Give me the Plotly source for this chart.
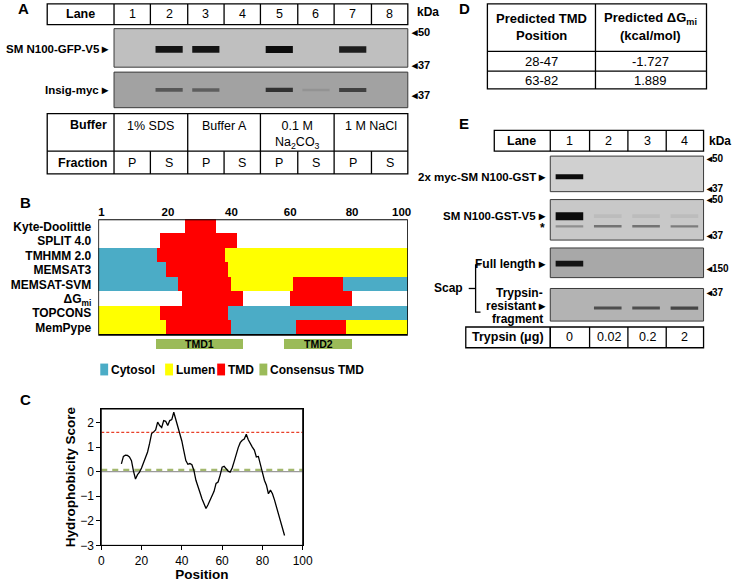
import plotly.graph_objects as go

W, H = 745, 582
FONT = "Liberation Sans, Arial, Helvetica, sans-serif"

# ------------------------------------------------------------------ data
# Panel A
lanes_a = ["1", "2", "3", "4", "5", "6", "7", "8"]
buffers_a = ["1% SDS", "Buffer A", "0.1 M<br>Na<sub>2</sub>CO<sub>3</sub>", "1 M NaCl"]
fractions_a = ["P", "S", "P", "S", "P", "S", "P", "S"]
sm_gfp_band = [0, 0.95, 0.95, 0, 1.0, 0, 0.9, 0]
insig_band = [0, 0.5, 0.45, 0, 0.75, 0.1, 0.65, 0]
kda_a = ["50", "37", "37"]

# Panel B
methods_b = ["Kyte-Doolittle", "SPLIT 4.0", "TMHMM 2.0", "MEMSAT3", "MEMSAT-SVM",
             "ΔG<sub>mi</sub>", "TOPCONS", "MemPype"]
seg_row = [0, 1, 2, 2, 2, 3, 3, 3, 4, 4, 4, 4, 4, 5, 5, 6, 6, 6, 7, 7, 7, 7, 7]
seg_start = [28, 20, 0, 19, 41, 0, 22, 42, 0, 26, 43, 63, 79, 27, 62, 0, 20, 42, 0, 22, 43, 64, 80]
seg_end = [38, 45, 19, 41, 100, 22, 42, 100, 26, 43, 63, 79, 100, 47, 82, 20, 42, 100, 22, 43, 64, 80, 100]
seg_type = ["TMD", "TMD", "Cytosol", "TMD", "Lumen", "Cytosol", "TMD", "Lumen",
            "Cytosol", "TMD", "Lumen", "TMD", "Cytosol", "TMD", "TMD",
            "Lumen", "TMD", "Cytosol", "Lumen", "TMD", "Cytosol", "TMD", "Lumen"]
consensus_names = ["TMD1", "TMD2"]
consensus_start = [18.7, 60]
consensus_end = [47, 82]
tick_pos_b = [1, 22.5, 43, 62, 82, 98]
tick_text_b = ["1", "20", "40", "60", "80", "100"]
legend_b = ["Cytosol", "Lumen", "TMD", "Consensus TMD"]

# Panel C
pos_c = list(range(10, 92))
score_c = [0.32, 0.62, 0.67, 0.66, 0.60, 0.45, 0.02, -0.30, -0.12, -0.02,
           0.15, 0.37, 0.52, 0.80, 1.15, 1.55, 1.62, 1.70, 2.02, 1.88,
           1.80, 2.08, 2.05, 1.88, 2.08, 2.12, 2.42, 2.15, 1.85, 1.60,
           1.25, 0.85, 0.45, 0.30, 0.33, 0.28, 0.05, -0.35, -0.65, -0.85,
           -1.10, -1.30, -1.50, -1.35, -1.15, -0.98, -0.80, -0.48, -0.42, -0.15,
           0.18, 0.22, 0.12, 0.02, -0.02, 0.15, 0.42, 0.72, 0.98, 1.18,
           1.28, 1.33, 1.52, 1.30, 1.12, 1.00, 0.88, 0.60, 0.62, 0.30,
           -0.05, -0.35, -0.55, -0.90, -0.75, -0.90, -1.15, -1.45, -1.75, -2.00,
           -2.30, -2.60]
tm_threshold = 1.6
consensus_threshold = 0.07

# Panel D
tmd_positions = ["28-47", "63-82"]
tmd_dg = ["-1.727", "1.889"]

# Panel E
lanes_e = ["1", "2", "3", "4"]
trypsin_e = ["0", "0.02", "0.2", "2"]
myc_band = [1.0, 0, 0, 0]
v5_band = [1.0, 0.06, 0.06, 0.06]
star_band = [0.3, 0.45, 0.45, 0.4]
full_band = [0.95, 0, 0, 0]
frag_band = [0, 0.6, 0.6, 0.65]
kda_e = ["50", "37", "50", "37", "150", "37"]

COLORS = {"Cytosol": "#4bacc6", "Lumen": "#ffff00", "TMD": "#ff0000", "Consensus TMD": "#9bbb59"}

# ------------------------------------------------------------------ helpers
annotations, shapes = [], []


def text(x, y, s, size=12, bold=False, anchor="center", vanchor="middle", color="black"):
    if bold:
        s = "<b>" + s + "</b>"
    annotations.append(dict(x=x / W, y=1 - y / H, xref="paper", yref="paper", text=s,
                            showarrow=False, xanchor=anchor, yanchor=vanchor,
                            font=dict(family=FONT, size=size, color=color)))


def line(x0, y0, x1, y1, w=1.3, color="black"):
    shapes.append(dict(type="line", xref="paper", yref="paper", x0=x0 / W, y0=1 - y0 / H,
                       x1=x1 / W, y1=1 - y1 / H, line=dict(color=color, width=w)))


def rect(x0, y0, x1, y1, fill="rgba(0,0,0,0)", lw=1.3, lc="black", layer="above"):
    shapes.append(dict(type="rect", xref="paper", yref="paper", x0=x0 / W, y0=1 - y1 / H,
                       x1=x1 / W, y1=1 - y0 / H, fillcolor=fill,
                       line=dict(color=lc, width=lw), layer=layer))


fig = go.Figure()
layout_axes = {}


def axname(n, kind):
    return kind if n == 1 else f"{kind}{n}"


def add_gel(n, x0, x1, y0, y1, nl, bg, bands, hw=0.37):
    layout_axes[axname(n, "xaxis")] = dict(domain=[x0 / W, x1 / W], range=[0.5, nl + 0.5],
                                           visible=False, anchor=axname(n, "y"), fixedrange=True)
    layout_axes[axname(n, "yaxis")] = dict(domain=[1 - y1 / H, 1 - y0 / H], range=[1, 0],
                                           visible=False, anchor=axname(n, "x"), fixedrange=True)
    rect(x0, y0, x1, y1, fill=bg, lw=1, lc="#3a3a3a", layer="below")
    bgv = int(bg[1:3], 16)
    for vals, yf, tmax in bands:
        for i, v in enumerate(vals):
            if v <= 0:
                continue
            g = int(bgv - (bgv - 12) * v)
            fig.add_trace(go.Scatter(
                x=[i + 1 - hw, i + 1 + hw], y=[yf, yf], mode="lines",
                line=dict(color=f"rgb({g},{g},{g})", width=tmax * (0.45 + 0.55 * v)),
                xaxis=axname(n, "x"), yaxis=axname(n, "y"), showlegend=False, hoverinfo="skip"))


# ------------------------------------------------------------------ Panel A
text(13, 9, "A", 15, True, anchor="left")
colsA = [45, 113, 150, 188, 225, 262, 300, 337, 375, 412]
rect(45, 4, 412, 25)
for c in colsA[1:-1]:
    line(c, 4, c, 25)
text(79, 14.5, "Lane", 12.5, True)
for i, l in enumerate(lanes_a):
    text((colsA[i + 1] + colsA[i + 2]) / 2, 14.5, l, 12.5)
text(419, 12, "kDa", 12, True, anchor="left")

add_gel(1, 113, 412, 29, 68, 8, "#bfbfbf", [(sm_gfp_band, 0.54, 7)])
add_gel(2, 113, 412, 73, 109, 8, "#a2a2a2", [(insig_band, 0.5, 5)])
text(110, 50, "SM N100-GFP-V5 ▸", 11.5, True, anchor="right")
text(110, 91, "Insig-myc ▸", 11.5, True, anchor="right")
for lab, yy in zip(kda_a, [32, 66, 96]):
    text(413, yy, "◂" + lab, 11, True, anchor="left")

rect(45, 115, 412, 176)
line(45, 153, 412, 153)
for c in [113, 188, 262, 337]:
    line(c, 115, c, 176)
for c in [150, 225, 300, 375]:
    line(c, 153, c, 176)
text(108, 127, "Buffer", 12.5, True, anchor="right")
text(108, 165, "Fraction", 12.5, True, anchor="right")
bufcols = [113, 188, 262, 337, 412]
for i, b in enumerate(buffers_a):
    text((bufcols[i] + bufcols[i + 1]) / 2, 118, b, 12.5, vanchor="top")
for i, f in enumerate(fractions_a):
    text((colsA[i + 1] + colsA[i + 2]) / 2, 165, f, 12.5)

# ------------------------------------------------------------------ Panel B
text(15, 205, "B", 15, True, anchor="left")
ROW_TOP, ROW_H = 222, 14.625
layout_axes["xaxis3"] = dict(domain=[97 / W, 412 / W], range=[0, 100], side="top",
                             tickvals=tick_pos_b, ticktext=["<b>" + t + "</b>" for t in tick_text_b],
                             tickfont=dict(family=FONT, size=11.5, color="black"),
                             showgrid=False, zeroline=False, showline=False, ticks="",
                             anchor="y3", fixedrange=True)
layout_axes["yaxis3"] = dict(domain=[1 - (ROW_TOP + 9 * ROW_H) / H, 1 - ROW_TOP / H],
                             range=[8.5, -0.5], tickvals=list(range(len(methods_b))),
                             ticktext=["<b>" + m + "</b>" for m in methods_b],
                             tickfont=dict(family=FONT, size=12, color="black"),
                             showgrid=False, zeroline=False, showline=False, ticks="",
                             ticklabelstandoff=6, anchor="x3", fixedrange=True)
for cat in ["Cytosol", "Lumen", "TMD"]:
    idx = [i for i, t in enumerate(seg_type) if t == cat]
    fig.add_trace(go.Bar(orientation="h", y=[seg_row[i] for i in idx],
                         x=[seg_end[i] - seg_start[i] for i in idx],
                         base=[seg_start[i] for i in idx], width=1.0,
                         marker=dict(color=COLORS[cat], line=dict(width=0)),
                         xaxis="x3", yaxis="y3", showlegend=False, hoverinfo="skip"))
CONS_Y = 8.15
fig.add_trace(go.Bar(orientation="h", y=[CONS_Y] * len(consensus_names),
                     x=[e - s for s, e in zip(consensus_start, consensus_end)],
                     base=consensus_start, width=0.64,
                     marker=dict(color=COLORS["Consensus TMD"], line=dict(width=0)),
                     xaxis="x3", yaxis="y3", showlegend=False, hoverinfo="skip"))
for nm, s, e in zip(consensus_names, consensus_start, consensus_end):
    annotations.append(dict(x=(s + e) / 2, y=CONS_Y, xref="x3", yref="y3", text="<b>" + nm + "</b>",
                            showarrow=False, font=dict(family=FONT, size=10.5, color="black")))
shapes.append(dict(type="rect", xref="x3", yref="y3", x0=0, x1=100, y0=-0.5, y1=7.5,
                   line=dict(color="black", width=1.6), layer="above"))

leg_x = [99, 165, 218, 261]
for lx, name in zip(leg_x, legend_b):
    rect(lx, 368, lx + 8, 380, fill=COLORS[name], lw=0, lc=COLORS[name])
    text(lx + 9, 374, name, 12, True, anchor="left")

# ------------------------------------------------------------------ Panel C
text(15, 404, "C", 15, True, anchor="left")
layout_axes["xaxis4"] = dict(domain=[100 / W, 305 / W], range=[0, 100], tickvals=[0, 20, 40, 60, 80, 100],
                             ticks="outside", ticklen=4, tickcolor="black", showline=True, mirror=True,
                             linecolor="black", linewidth=1, showgrid=False, zeroline=False,
                             tickfont=dict(family=FONT, size=12, color="black"),
                             title=dict(text="<b>Position</b>", standoff=2,
                                        font=dict(family=FONT, size=13.5, color="black")),
                             anchor="y4", fixedrange=True)
layout_axes["yaxis4"] = dict(domain=[1 - 552 / H, 1 - 414 / H], range=[-3, 2.55],
                             tickvals=[-3, -2, -1, 0, 1, 2],
                             ticks="outside", ticklen=4, tickcolor="black", showline=True, mirror=True,
                             linecolor="black", linewidth=1, showgrid=False, zeroline=False,
                             tickfont=dict(family=FONT, size=12, color="black"),
                             title=dict(text="<b>Hydrophobicity Score</b>", standoff=1,
                                        font=dict(family=FONT, size=13.5, color="black")),
                             anchor="x4", fixedrange=True)
fig.add_trace(go.Scatter(x=[0, 100], y=[0, 0], mode="lines", line=dict(color="#9a9a9a", width=1.2),
                         xaxis="x4", yaxis="y4", showlegend=False, hoverinfo="skip"))
fig.add_trace(go.Scatter(x=[0, 100], y=[consensus_threshold] * 2, mode="lines",
                         line=dict(color="#a3b86e", width=2.2, dash="6px,5px"),
                         xaxis="x4", yaxis="y4", showlegend=False, hoverinfo="skip"))
fig.add_trace(go.Scatter(x=[0, 100], y=[tm_threshold] * 2, mode="lines",
                         line=dict(color="#e8402a", width=1.1, dash="3px,2px"),
                         xaxis="x4", yaxis="y4", showlegend=False, hoverinfo="skip"))
fig.add_trace(go.Scatter(x=pos_c, y=score_c, mode="lines", line=dict(color="black", width=1.3),
                         xaxis="x4", yaxis="y4", showlegend=False, hoverinfo="skip"))
shapes.append(dict(type="rect", xref="x4 domain", yref="y4 domain", x0=0, x1=1, y0=0, y1=1,
                   line=dict(color="black", width=1), layer="above"))

# ------------------------------------------------------------------ Panel D
text(462, 9, "D", 15, True, anchor="left")
rect(493, 4, 716, 90)
line(493, 52, 716, 52)
line(493, 72, 716, 72)
line(603, 4, 603, 90)
text(548, 19, "Predicted TMD", 13, True)
text(548, 36, "Position", 13, True)
text(659, 19, "Predicted ΔG<sub>mi</sub>", 13, True)
text(659, 36, "(kcal/mol)", 13, True)
for i, (p, g) in enumerate(zip(tmd_positions, tmd_dg)):
    yy = 62 + i * 19
    text(548, yy, p, 13)
    text(659, yy, g, 13)

# ------------------------------------------------------------------ Panel E
text(462, 125, "E", 15, True, anchor="left")
colsE = [500, 557, 597, 636, 675, 713]
rect(500, 132, 713, 153)
for c in colsE[1:-1]:
    line(c, 132, c, 153)
text(528, 142.5, "Lane", 12.5, True)
for i, l in enumerate(lanes_e):
    text((colsE[i + 1] + colsE[i + 2]) / 2, 142.5, l, 12.5)
text(716, 143, "kDa", 12, True, anchor="left")

add_gel(5, 557, 713, 158, 194, 4, "#d0d0d0", [(myc_band, 0.58, 5)], hw=0.36)
add_gel(6, 557, 713, 202, 243, 4, "#c8c8c8", [(v5_band, 0.41, 8), (star_band, 0.66, 3.5)], hw=0.36)
add_gel(7, 557, 713, 251, 281, 4, "#a8a8a8", [(full_band, 0.53, 6)], hw=0.36)
add_gel(8, 557, 713, 292, 325, 4, "#b3b3b3", [(frag_band, 0.6, 4)], hw=0.36)

for lab, yy in zip(kda_e, [160, 190.5, 201.5, 238, 272, 296]):
    text(713, yy, "◂" + lab, 10, True, anchor="left")

text(555, 179, "2x myc-SM N100-GST ▸", 11.5, True, anchor="right")
text(555, 219, "SM N100-GST-V5 ▸", 11.5, True, anchor="right")
text(554, 231, "*", 12, True, anchor="right")
text(555, 267, "Full length ▸", 12, True, anchor="right")
text(526, 297, "Trypsin-", 12, True)
text(555, 310, "resistant ▸", 12, True, anchor="right")
text(524, 323, "fragment", 12, True)
text(470, 292, "Scap", 12, True, anchor="right")
shapes.append(dict(type="path", xref="paper", yref="paper",
                   path=f"M {486 / W} {1 - 268 / H} L {481 / W} {1 - 268 / H} L {481 / W} {1 - 316 / H} L {486 / W} {1 - 316 / H}",
                   line=dict(color="black", width=1.3)))
line(474, 292, 481, 292)

rect(471, 331, 713, 352)
for c in colsE[1:-1]:
    line(c, 331, c, 352)
line(557, 331, 557, 352)
text(514, 341.5, "Trypsin (μg)", 12.5, True)
for i, t in enumerate(trypsin_e):
    text((colsE[i + 1] + colsE[i + 2]) / 2, 341.5, t, 12.5)

# ------------------------------------------------------------------ layout
fig.update_layout(width=W, height=H, margin=dict(l=0, r=0, t=0, b=0),
                  paper_bgcolor="white", plot_bgcolor="rgba(0,0,0,0)",
                  barmode="overlay", bargap=0, showlegend=False,
                  annotations=annotations, shapes=shapes, **layout_axes)
fig.write_html("out.html", config={"displayModeBar": False},
               post_script="document.body.style.margin='0';document.body.style.padding='0';document.body.style.overflow='hidden';")
